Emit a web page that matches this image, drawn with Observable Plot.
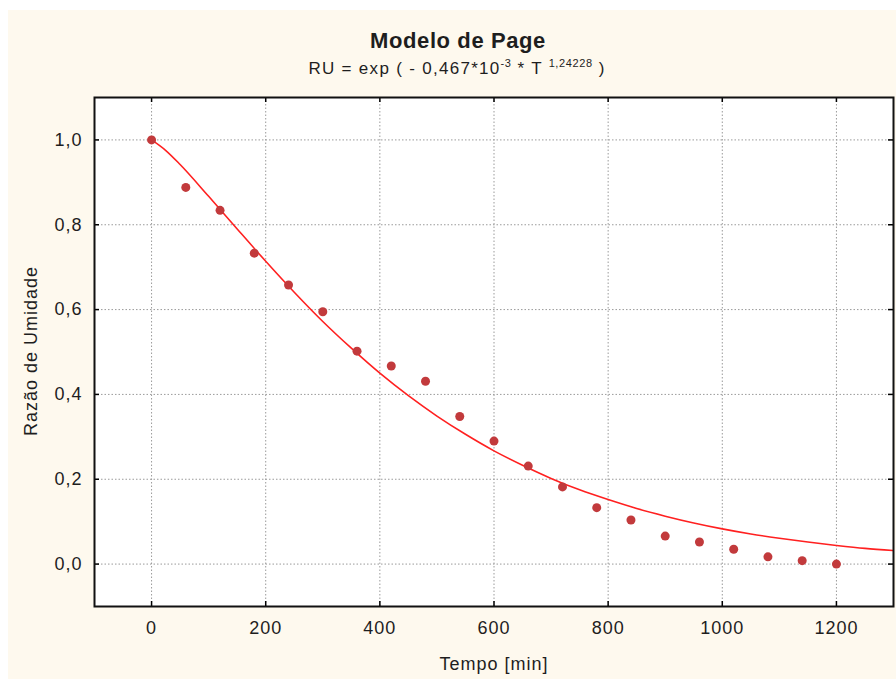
<!DOCTYPE html>
<html>
<head>
<meta charset="utf-8">
<script src="https://cdn.jsdelivr.net/npm/d3@7"></script>
<script src="https://cdn.jsdelivr.net/npm/@observablehq/plot@0.6"></script>
<style>
  body { margin: 0; background: #ffffff; }
  #wrap { position: relative; width: 896px; height: 679px; overflow: hidden; font-family: "Liberation Sans", Arial, sans-serif; color: #1e1e1e; }
  #bg { position: absolute; left: 8px; top: 10px; width: 888px; height: 669px; background: #fef9ee; }
  #chart { position: absolute; left: 0; top: 0; }
  .txt { position: absolute; white-space: nowrap; line-height: 1; }
  #title { left: 458px; top: 30px; transform: translateX(-50%); font-size: 22px; font-weight: bold; letter-spacing: 0.6px; }
  #subtitle { left: 457px; top: 60px; transform: translateX(-50%); font-size: 17px; letter-spacing: 1.3px; }
  #subtitle sup { font-size: 11px; vertical-align: 0; position: relative; top: -7px; letter-spacing: 0.6px; }
  #xlabel { left: 494px; top: 655px; transform: translateX(-50%); font-size: 18px; letter-spacing: 1px; }
  #ylabel { left: 31px; top: 351px; transform: translate(-50%, -50%) rotate(-90deg); font-size: 18px; letter-spacing: 1px; }
</style>
</head>
<body>
<div id="wrap">
  <div id="bg"></div>
  <div id="chart"></div>
  <div class="txt" id="title">Modelo de Page</div>
  <div class="txt" id="subtitle">RU = exp ( - 0,467*10<sup>-3</sup> * T <sup>1,24228</sup> )</div>
  <div class="txt" id="xlabel">Tempo [min]</div>
  <div class="txt" id="ylabel">Razão de Umidade</div>
</div>
<script>
// Observed data (Tempo in min, Razão de Umidade)
const tempo = [0, 60, 120, 180, 240, 300, 360, 420, 480, 540, 600, 660, 720, 780, 840, 900, 960, 1020, 1080, 1140, 1200];
const ru = [1.000, 0.888, 0.834, 0.733, 0.658, 0.595, 0.502, 0.467, 0.431, 0.348, 0.290, 0.231, 0.182, 0.133, 0.104, 0.066, 0.052, 0.035, 0.017, 0.008, 0.000];

// Fitted curve, values
const curveT = [0, 25, 50, 100, 150, 200, 250, 300, 350, 400, 450, 500, 550, 600, 650, 700, 750, 800, 850, 900, 950, 1000, 1050, 1100, 1150, 1200, 1250, 1300];
const curveRU = [1.000, 0.975, 0.942, 0.867, 0.790, 0.714, 0.641, 0.572, 0.509, 0.450, 0.397, 0.349, 0.306, 0.267, 0.233, 0.202, 0.175, 0.152, 0.131, 0.113, 0.097, 0.083, 0.071, 0.061, 0.052, 0.044, 0.037, 0.032];

const xTicks = [0, 200, 400, 600, 800, 1000, 1200];
const yTicks = [0.0, 0.2, 0.4, 0.6, 0.8, 1.0];
const xDomain = [-100, 1300];
const yDomain = [-0.1, 1.1];

const points = tempo.map((t, i) => ({t, ru: ru[i]}));
const curve = curveT.map((t, i) => ({t, ru: curveRU[i]}));

const tickLenX = (xDomain[1] - xDomain[0]) * 5 / 799;
const tickLenY = (yDomain[1] - yDomain[0]) * 5 / 509;

const chart = Plot.plot({
  width: 896,
  height: 679,
  marginTop: 97,
  marginLeft: 94,
  marginRight: 3,
  marginBottom: 73,
  style: {background: "transparent", fontFamily: "Liberation Sans, Arial, sans-serif", fontSize: "18px", letterSpacing: "1px", color: "#1e1e1e"},
  x: {domain: xDomain},
  y: {domain: yDomain},
  marks: [
    Plot.frame({fill: "white", stroke: "none"}),
    Plot.gridX(xTicks, {stroke: "#9a9a9a", strokeOpacity: 1, strokeWidth: 1, strokeDasharray: "1.5,2"}),
    Plot.gridY(yTicks, {stroke: "#9a9a9a", strokeOpacity: 1, strokeWidth: 1, strokeDasharray: "1.5,2"}),
    Plot.line(curve, {x: "t", y: "ru", stroke: "#ff2020", strokeWidth: 1.6, curve: "monotone-x", clip: true}),
    Plot.dot(points, {x: "t", y: "ru", r: 4.5, fill: "#c23a3c", stroke: "none"}),
    Plot.ruleX(xTicks, {x: d => d, y1: yDomain[0], y2: yDomain[0] + tickLenY, stroke: "black", strokeWidth: 1.5}),
    Plot.ruleX(xTicks, {x: d => d, y1: yDomain[1], y2: yDomain[1] - tickLenY, stroke: "black", strokeWidth: 1.5}),
    Plot.ruleY(yTicks, {y: d => d, x1: xDomain[0], x2: xDomain[0] + tickLenX, stroke: "black", strokeWidth: 1.5}),
    Plot.ruleY(yTicks, {y: d => d, x1: xDomain[1], x2: xDomain[1] - tickLenX, stroke: "black", strokeWidth: 1.5}),
    Plot.frame({stroke: "#111", strokeWidth: 2}),
    Plot.axisX(xTicks, {tickSize: 0, tickPadding: 15, tickFormat: d => String(d), label: null}),
    Plot.axisY(yTicks, {tickSize: 0, tickPadding: 12, tickFormat: d => d.toFixed(1).replace(".", ","), label: null})
  ]
});
document.getElementById("chart").appendChild(chart);
</script>
</body>
</html>
